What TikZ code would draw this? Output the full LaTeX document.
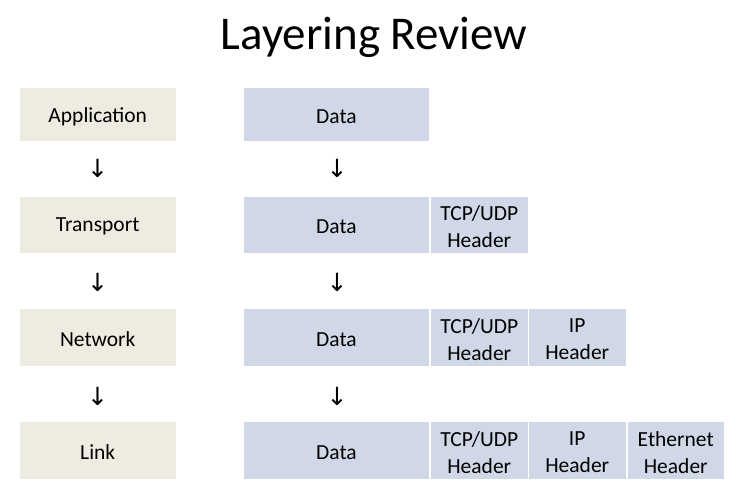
\documentclass[tikz,border=0pt]{standalone}
\usepackage{fontspec}
\setmainfont{Carlito}
\newfontfamily\arrowfont{DejaVu Sans}
\definecolor{layerfill}{HTML}{EEECE1}
\definecolor{pktfill}{HTML}{D0D8E8}
\tikzset{
  boxtext/.style={font=\fontsize{21.5}{27}\selectfont, align=center, inner sep=0pt, outer sep=0pt, text=black, yshift=-1.8pt},
  boxbase/.style={inner sep=0pt, outer sep=0pt},
  layerbox/.style={boxbase, fill=layerfill, minimum width=155.5pt, label={[boxtext]center:#1}},
  databox/.style={boxbase, fill=pktfill, minimum width=185pt, label={[boxtext]center:#1}},
  hdrbox/.style={boxbase, fill=pktfill, minimum width=96.5pt, label={[boxtext]center:#1}},
  downarrow/.style={font=\arrowfont\fontsize{25}{25}\selectfont, inner sep=0pt}
}
\begin{document}
\begin{tikzpicture}[x=1pt,y=-1pt]
\useasboundingbox (0,0) rectangle (739,491);
\node[anchor=base, font=\fontsize{47}{47}\selectfont, inner sep=0pt] (title) at (374,49) {Layering Review};
% row 1
\node[layerbox={Application}, minimum height=53pt] (app) at (97.75,114.5) {};
\node[databox={Data}, minimum height=53pt] (d1) at (336.5,114.5) {};
% row 2
\node[layerbox={Transport}, minimum height=56pt] (tra) at (97.75,225) {};
\node[databox={Data}, minimum height=56pt] (d2) at (336.5,225) {};
\node[hdrbox={TCP/UDP\\Header}, minimum height=56pt] (t2) at (479.25,225) {};
% row 3
\node[layerbox={Network}, minimum height=57pt] (net) at (97.75,337.75) {};
\node[databox={Data}, minimum height=57pt] (d3) at (336.5,337.75) {};
\node[hdrbox={TCP/UDP\\Header}, minimum height=57pt] (t3) at (479.25,337.75) {};
\node[hdrbox={IP\\Header}, minimum height=57pt] (i3) at (577.25,337.75) {};
% row 4
\node[layerbox={Link}, minimum height=57pt] (lnk) at (97.75,450.5) {};
\node[databox={Data}, minimum height=57pt] (d4) at (336.5,450.5) {};
\node[hdrbox={TCP/UDP\\Header}, minimum height=57pt] (t4) at (479.25,450.5) {};
\node[hdrbox={IP\\Header}, minimum height=57pt] (i4) at (577.25,450.5) {};
\node[hdrbox={Ethernet\\Header}, minimum height=57pt] (e4) at (675.75,450.5) {};
% arrows
\node[downarrow] (a1) at (97.5,168.5) {↓};
\node[downarrow] (a2) at (97.5,282.5) {↓};
\node[downarrow] (a3) at (97.5,396.5) {↓};
\node[downarrow] (b1) at (337,168.5) {↓};
\node[downarrow] (b2) at (337,282.5) {↓};
\node[downarrow] (b3) at (337,396.5) {↓};
\end{tikzpicture}
\end{document}
